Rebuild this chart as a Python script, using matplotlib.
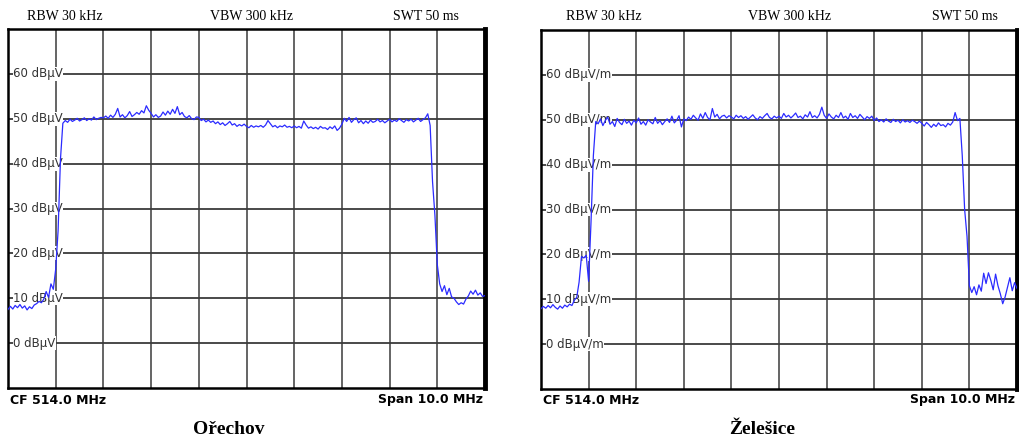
import numpy as np
import matplotlib
matplotlib.use('Agg')
import matplotlib.pyplot as plt

# sweep points, 0.05 MHz apart, CF 514 MHz, span 10 MHz
freq = np.round(np.arange(509.0, 519.0001, 0.05), 2)

# Orechov trace (dBuV)
orechov = (
    [7.5, 8.2, 7.6, 8.4, 7.9, 8.6, 7.8, 8.3, 7.4, 8.1, 7.7, 8.5, 8.8, 9.3, 9.0, 9.8,
     11.5, 10.2, 13.2, 12.0, 16.5, 25.0, 41.0]
    + [49.0, 49.6, 49.2, 49.9, 49.4, 49.7, 50.1, 49.5, 49.8, 50.2, 49.6, 50.0, 49.7, 50.4, 49.8, 50.1, 50.3]
    + [50.2, 50.6, 50.1, 50.8, 50.3, 51.0, 52.3, 50.4, 50.9, 50.2, 50.7, 51.6, 50.5, 50.9, 51.4, 51.0, 51.8, 51.3, 52.9, 51.9]
    + [51.2, 50.4, 50.9, 50.3, 50.6, 51.5, 50.8, 51.7, 51.0, 52.1, 51.2, 52.7, 50.9, 51.4, 50.5, 50.2, 50.7, 50.0, 49.8, 50.4]
    + [50.3, 49.6, 49.9, 49.3, 49.7, 49.2, 49.5, 48.9, 49.3, 48.7, 49.1, 48.5, 48.9, 49.4, 48.6, 48.9, 48.3, 48.7, 48.4, 48.8]
    + [48.3, 48.0, 48.5, 48.1, 48.4, 48.2, 48.5, 48.1, 48.6, 49.6, 48.9, 48.2, 48.5, 48.0, 48.4, 48.2, 48.6, 48.1, 48.3, 48.0]
    + [48.4, 48.0, 48.3, 47.9, 49.5, 48.6, 47.9, 48.2, 47.8, 48.1, 47.7, 48.3, 47.9, 48.0, 47.6, 48.2, 47.8, 48.4, 47.4, 47.9]
    + [48.8, 50.1, 49.4, 50.3, 49.2, 49.8, 50.2, 49.1, 49.6, 48.9, 49.5, 49.0, 49.7, 49.2, 49.4, 49.9, 49.3, 49.6, 49.1, 49.5]
    + [49.9, 49.3, 49.7, 49.4, 50.0, 49.6, 49.2, 49.8, 49.5, 49.9, 49.3, 49.7, 50.1, 49.4, 49.8, 50.2, 51.1]
    + [48.5, 36.0, 28.5, 17.5, 13.2, 11.5, 12.8, 10.8, 12.2, 10.3, 10.0, 9.2, 8.6, 9.0, 8.7, 9.8,
       10.5, 11.6, 10.9, 11.8, 10.7, 11.2, 10.4, 10.6]
)

# Zelesice trace (dBuV/m)
zelesice = (
    [7.9, 8.4, 8.0, 8.6, 8.1, 8.8, 8.2, 7.8, 8.5, 8.0, 8.7, 8.3, 8.9, 8.6, 9.8, 10.4,
     13.8, 19.5, 19.2, 19.8, 14.0, 27.0, 42.0, 49.6]
    + [49.1, 50.2, 48.7, 49.8, 50.6, 49.0, 49.6, 48.5, 50.3, 49.4, 48.9, 50.1, 49.2, 49.7, 48.8, 49.9]
    + [49.3, 50.4, 49.0, 49.6, 48.8, 50.0, 49.5, 49.1, 50.5, 49.2, 49.8, 48.9, 49.6, 50.2, 49.4, 50.8, 49.3, 49.9, 50.9, 48.4]
    + [50.2, 49.8, 50.6, 50.1, 51.0, 50.4, 49.9, 51.3, 50.3, 51.6, 50.5, 50.0, 52.5, 50.6, 51.2, 50.2, 50.8, 51.0, 50.4, 50.9]
    + [50.6, 50.2, 51.0, 50.5, 50.9, 50.3, 50.7, 50.1, 50.6, 51.1, 50.4, 50.0, 50.7, 50.3, 50.9, 51.4, 50.5, 50.2, 50.8, 50.4]
    + [50.8, 50.3, 51.4, 50.6, 51.0, 50.4, 50.9, 51.5, 50.5, 50.8, 50.2, 51.1, 50.6, 51.8, 50.5, 50.9, 50.4, 51.2, 52.8, 51.0]
    + [50.3, 51.3, 50.6, 50.2, 51.0, 50.5, 51.6, 50.4, 50.8, 50.1, 51.4, 50.5, 50.9, 50.3, 51.2, 50.6, 50.0, 50.7, 50.3, 50.8]
    + [49.8, 50.4, 49.6, 50.0, 49.5, 50.2, 49.7, 49.4, 50.1, 49.6, 49.9, 49.3, 50.0, 49.5, 49.8, 49.4, 49.9, 49.6, 49.2, 49.7]
    + [49.2, 48.6, 49.4, 48.9, 48.3, 49.0, 48.5, 49.3, 48.7, 48.9, 48.4, 49.2, 48.8, 49.5, 51.6, 49.8, 50.3]
    + [42.0, 30.0, 24.0, 13.0, 11.5, 12.8, 11.0, 13.2, 11.8, 15.8, 13.5, 15.9, 14.2, 12.1, 15.6, 13.0,
       11.2, 9.0, 10.5, 12.6, 14.8, 11.9, 13.7, 12.4]
)

assert len(orechov) == len(freq) and len(zelesice) == len(freq)

level_ticks = [0, 10, 20, 30, 40, 50, 60]
freq_ticks = [510, 511, 512, 513, 514, 515, 516, 517, 518]

W, H = 1020, 441
fig = plt.figure(figsize=(W / 100, H / 100), dpi=100)


def panel(box, trace, unit, title, title_x, top_xs):
    x0, y0, x1, y1 = box
    ax = fig.add_axes([x0 / W, 1 - y1 / H, (x1 - x0) / W, (y1 - y0) / H])
    ax.set_xlim(509, 519)
    ax.set_ylim(-10, 70)
    ax.set_xticks([])
    ax.set_yticks([])
    for f in freq_ticks:
        ax.axvline(f, color='#3a3a3a', lw=1.1, zorder=1)
    for lv in level_ticks:
        ax.axhline(lv, color='#3a3a3a', lw=1.3, zorder=1)
        ax.text(0.011, (lv + 10) / 80, '%d %s' % (lv, unit), transform=ax.transAxes,
                ha='left', va='center', fontsize=8.5, color='#333333', zorder=2,
                bbox=dict(facecolor='white', edgecolor='none', pad=0.3))
    ax.plot(freq, trace, color='#2b2bff', lw=0.9, zorder=4)
    for s in ax.spines.values():
        s.set_linewidth(1.8)
        s.set_color('black')
    ax.spines['right'].set_linewidth(3.5)

    # header / footer texts
    ty = 1 - 17 / H
    fig.text(top_xs[0] / W, ty, 'RBW 30 kHz', ha='left', va='center',
             family='Liberation Serif', fontsize=10)
    fig.text(top_xs[1] / W, ty, 'VBW 300 kHz', ha='center', va='center',
             family='Liberation Serif', fontsize=10)
    fig.text(top_xs[2] / W, ty, 'SWT 50 ms', ha='right', va='center',
             family='Liberation Serif', fontsize=10)
    by = 1 - 400 / H
    fig.text((x0 + 2) / W, by, 'CF 514.0 MHz', ha='left', va='center',
             fontsize=9, fontweight='bold')
    fig.text((x1 - 2) / W, by, 'Span 10.0 MHz', ha='right', va='center',
             fontsize=9, fontweight='bold')
    fig.text(title_x / W, 1 - 430 / H, title, ha='center', va='center',
             family='Liberation Serif', fontsize=14, fontweight='bold')
    return ax


panel((8, 29, 485, 388), orechov, 'dBµV', 'Ořechov', 229, (27, 252, 459))
panel((541, 30, 1017, 389), zelesice, 'dBµV/m', 'Želešice', 762, (566, 790, 998))

fig.savefig('out.png', dpi=100)
